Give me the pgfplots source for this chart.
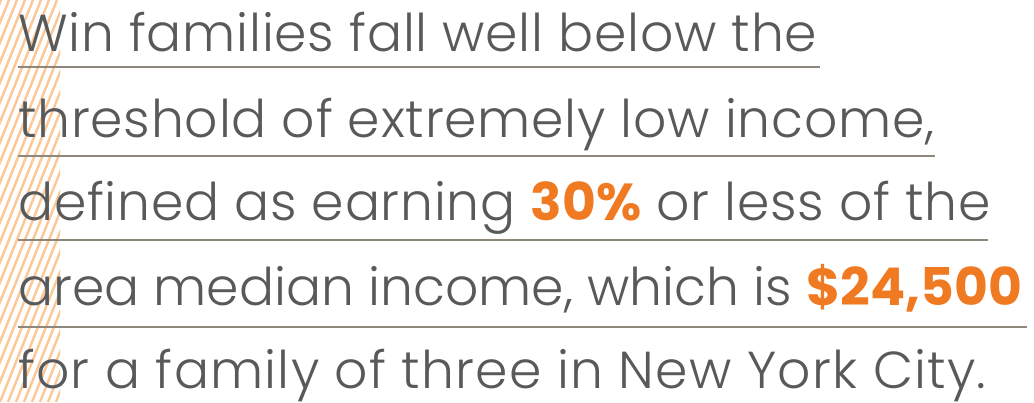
\documentclass[border=0pt]{standalone}
\usepackage{fontspec}
\setmainfont{Poppins}[UprightFont=* Light, BoldFont=* Bold, LetterSpace=1.5,
  BoldFeatures={LetterSpace=0}]
\usepackage{pgfplots}
\pgfplotsset{compat=1.18}
\definecolor{txt}{HTML}{58595B}
\definecolor{accent}{HTML}{F07A22}
\definecolor{rule}{HTML}{8E877B}
\definecolor{hatch}{HTML}{FBC796}
\tikzset{
  line/.style={anchor=base west, inner sep=0pt, text=txt, font=\fontsize{52}{52}\selectfont},
}
\newcommand{\hl}[1]{\textcolor{accent}{\textbf{#1}}}
\begin{document}
\begin{tikzpicture}
\begin{axis}[
  at={(0,0)}, anchor=south west,
  width=1034pt, height=402pt, scale only axis,
  hide axis, clip=false,
  xmin=0, xmax=1034, ymin=0, ymax=402, y dir=reverse,
]
  % hatched strip on the left
  \begin{scope}
    \clip (axis cs:0,0) rectangle (axis cs:60,402);
    \pgfplotsinvokeforeach{-168,-160,...,64}{
      \draw[hatch, line width=2.4pt] (axis cs:#1,402) -- (axis cs:{#1+161},0);
    }
  \end{scope}

  % underlines
  \addplot[rule, line width=2.5pt, mark=none] coordinates {(18,67) (820,67)};
  \addplot[rule, line width=2.5pt, mark=none] coordinates {(18,156) (935,156)};
  \addplot[rule, line width=2.5pt, mark=none] coordinates {(18,240) (988,240)};
  \addplot[rule, line width=2.5pt, mark=none] coordinates {(18,327) (1027,327)};

  % text lines
  \node[line] at (axis cs:18,51)  {Win families fall well below the};
  \node[line] at (axis cs:18,137) {threshold of extremely low income,};
  \node[line] at (axis cs:18,220) {defined as earning \hl{30\%} or less of the};
  \node[line] at (axis cs:18,305) {\addfontfeatures{LetterSpace=0}area median income, which is \hl{\$24,500}};
  \node[line] at (axis cs:18,388) {\addfontfeatures{LetterSpace=2.4}for a family of three in New York City.};
\end{axis}
\pgfresetboundingbox
\path (0,0) rectangle (1034pt,402pt);
\end{tikzpicture}
\end{document}
